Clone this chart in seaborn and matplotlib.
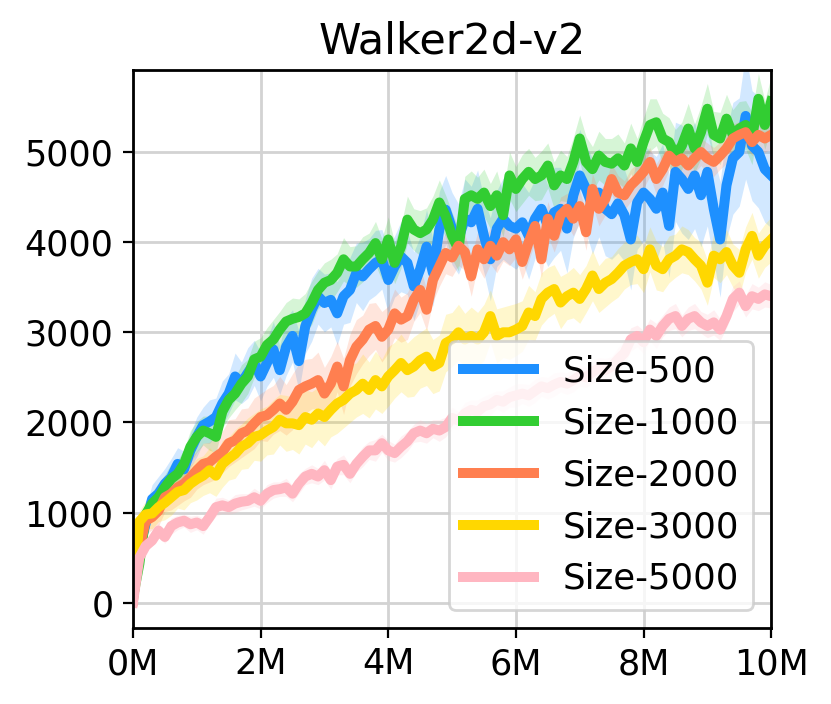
import numpy as np
import pandas as pd
import matplotlib
matplotlib.use("Agg")
import matplotlib.pyplot as plt
import seaborn as sns
from matplotlib.ticker import FuncFormatter

# ---------------- data ----------------
steps = np.linspace(0, 1e7, 101)

labels = ["Size-500", "Size-1000", "Size-2000", "Size-3000", "Size-5000"]
colors = ["#1E90FF", "#32CD32", "#FF7F50", "#FFD700", "#FFB6C1"]

size_500 = [100, 600, 880, 1150, 1210, 1320, 1390, 1540, 1480, 1690,
            1840, 1970, 2010, 2060, 2210, 2320, 2510, 2440, 2550, 2660,
            2510, 2660, 2810, 2580, 2840, 2960, 2680, 3065, 3250, 3400,
            3325, 3360, 3210, 3400, 3470, 3660, 3620, 3700, 3770, 3810,
            3580, 3730, 3840, 3770, 3510, 3700, 3950, 3660, 4140, 4360,
            4150, 4035, 4260, 4220, 4370, 4070, 3810, 4150, 4260, 4180,
            4150, 4220, 4070, 4260, 4370, 4180, 4330, 4370, 4150, 4520,
            4740, 4590, 4400, 4550, 4370, 4310, 4430, 4300, 4030, 4440,
            4550, 4480, 4370, 4550, 4180, 4780, 4700, 4590, 4740, 4520,
            4780, 4370, 4030, 4630, 4930, 5000, 5400, 5070, 5000, 4810,
            4740]
size_1000 = [60, 430, 980, 1100, 1170, 1280, 1375, 1430, 1540, 1730,
             1840, 1910, 1880, 1840, 2120, 2250, 2320, 2430, 2510, 2700,
             2730, 2860, 2920, 3030, 3120, 3150, 3170, 3210, 3325, 3470,
             3550, 3580, 3660, 3810, 3730, 3730, 3810, 3880, 3990, 3810,
             4030, 3770, 3950, 4250, 4140, 4100, 4140, 4250, 4440, 4290,
             4070, 3920, 4480, 4520, 4480, 4550, 4400, 4520, 4300, 4740,
             4590, 4700, 4780, 4700, 4740, 4850, 4630, 4740, 4700, 4890,
             5150, 4890, 4810, 4960, 4890, 4870, 4930, 4850, 5040, 4890,
             5110, 5300, 5330, 5150, 5110, 4960, 5070, 5260, 5040, 5220,
             5480, 5190, 5150, 5370, 5190, 5260, 5300, 5150, 5590, 5300,
             5560]
size_2000 = [20, 610, 910, 950, 1020, 1170, 1210, 1280, 1320, 1390,
             1470, 1540, 1560, 1620, 1670, 1770, 1800, 1880, 1910, 1990,
             2060, 2080, 2140, 2210, 2140, 2230, 2360, 2400, 2430, 2470,
             2320, 2430, 2620, 2400, 2690, 2840, 2920, 3030, 3070, 2950,
             3030, 3210, 3140, 3180, 3360, 3470, 3250, 3580, 3730, 3880,
             3830, 3960, 3890, 3620, 3920, 3810, 3960, 3850, 4000, 3920,
             4030, 3780, 4000, 4180, 3810, 4260, 4070, 4300, 4370, 4260,
             4400, 4110, 4590, 4370, 4480, 4700, 4550, 4520, 4630, 4700,
             4780, 4890, 4700, 4810, 4960, 4890, 4930, 4850, 4930, 5000,
             4930, 4890, 4960, 5040, 5150, 5190, 5220, 5110, 5190, 5150,
             5190]
size_3000 = [60, 900, 980, 990, 1060, 1110, 1170, 1230, 1250, 1320,
             1370, 1410, 1470, 1410, 1540, 1600, 1650, 1730, 1770, 1840,
             1860, 1910, 1950, 2030, 1990, 1990, 1970, 2060, 2030, 2100,
             2060, 2140, 2210, 2250, 2320, 2360, 2430, 2360, 2470, 2400,
             2510, 2580, 2660, 2580, 2620, 2690, 2730, 2620, 2660, 2880,
             2920, 3000, 2920, 2960, 2920, 3000, 3180, 2960, 3000, 3000,
             3030, 3070, 3220, 3180, 3370, 3440, 3480, 3330, 3400, 3440,
             3370, 3480, 3630, 3480, 3550, 3590, 3660, 3740, 3780, 3810,
             3700, 3920, 3740, 3700, 3810, 3850, 3920, 3890, 3810, 3740,
             3550, 3850, 3810, 3890, 3740, 3660, 3920, 4070, 3850, 3960,
             4030]
size_5000 = [0, 500, 630, 690, 800, 730, 850, 890, 910, 870,
             890, 850, 950, 1060, 1080, 1060, 1100, 1120, 1130, 1170,
             1130, 1210, 1250, 1260, 1280, 1210, 1320, 1400, 1430, 1400,
             1470, 1360, 1510, 1530, 1430, 1540, 1620, 1690, 1690, 1770,
             1690, 1660, 1730, 1790, 1880, 1910, 1880, 1930, 1910, 1950,
             2050, 2020, 2100, 2140, 2120, 2180, 2200, 2250, 2230, 2280,
             2300, 2320, 2300, 2350, 2400, 2380, 2420, 2450, 2430, 2470,
             2520, 2500, 2560, 2600, 2580, 2620, 2700, 2770, 2920, 2960,
             2890, 3030, 2960, 3070, 3150, 3180, 3070, 3150, 3180, 3110,
             3070, 3110, 3030, 3180, 3370, 3440, 3290, 3400, 3370, 3420,
             3400]

std_500 = [30, 150, 180, 160, 190, 170, 210, 180, 200, 190,
           220, 200, 240, 210, 250, 220, 260, 230, 280, 250,
           270, 260, 310, 270, 320, 290, 330, 300, 350, 310,
           320, 300, 350, 310, 360, 330, 380, 340, 360, 330,
           370, 340, 390, 350, 380, 360, 410, 370, 420, 380,
           400, 390, 440, 400, 430, 410, 460, 420, 450, 430,
           450, 430, 480, 440, 470, 450, 500, 460, 490, 470,
           510, 480, 530, 490, 520, 500, 550, 510, 560, 520,
           540, 530, 580, 540, 570, 550, 600, 560, 590, 570,
           600, 580, 640, 590, 620, 600, 700, 610, 620, 590,
           580]
std_1000 = [20, 120, 150, 130, 160, 140, 170, 150, 160, 180,
            170, 160, 190, 170, 180, 200, 180, 210, 190, 200,
            210, 190, 220, 200, 210, 230, 200, 220, 240, 210,
            220, 230, 210, 240, 220, 230, 250, 220, 240, 230,
            250, 230, 240, 260, 230, 250, 240, 260, 250, 230,
            260, 240, 250, 270, 240, 260, 250, 270, 240, 260,
            250, 270, 260, 240, 270, 250, 260, 280, 250, 270,
            260, 280, 250, 270, 260, 280, 270, 250, 280, 260,
            270, 290, 260, 280, 270, 290, 260, 280, 270, 290,
            280, 260, 290, 270, 280, 300, 270, 290, 280, 270,
            280]
std_2000 = [20, 130, 150, 140, 170, 160, 180, 200, 190, 220,
            210, 230, 220, 250, 230, 260, 240, 270, 250, 280,
            260, 290, 270, 300, 280, 310, 290, 300, 280, 310,
            290, 300, 280, 310, 290, 300, 270, 290, 260, 280,
            260, 270, 250, 260, 240, 250, 230, 240, 220, 230,
            210, 220, 200, 220, 190, 210, 200, 190, 210, 180,
            200, 190, 210, 180, 200, 190, 180, 200, 170, 190,
            180, 200, 170, 190, 180, 170, 190, 160, 180, 170,
            180, 160, 170, 180, 160, 170, 150, 170, 160, 150,
            170, 160, 150, 170, 160, 150, 160, 150, 160, 150,
            160]
std_3000 = [20, 120, 150, 170, 160, 190, 200, 180, 220, 210,
            230, 220, 250, 230, 260, 240, 270, 250, 280, 260,
            290, 270, 300, 280, 310, 290, 320, 300, 310, 290,
            320, 300, 330, 310, 320, 300, 330, 310, 320, 300,
            330, 310, 320, 300, 330, 310, 320, 300, 310, 320,
            300, 310, 290, 320, 300, 310, 290, 300, 280, 300,
            290, 280, 300, 270, 290, 280, 270, 290, 260, 280,
            270, 260, 280, 260, 270, 250, 270, 260, 250, 270,
            260, 250, 270, 250, 260, 240, 260, 250, 240, 260,
            250, 240, 260, 250, 240, 260, 250, 260, 250, 240,
            250]
std_5000 = [10, 60, 70, 60, 80, 70, 90, 80, 70, 90,
            80, 90, 80, 100, 90, 80, 100, 90, 80, 100,
            90, 100, 90, 80, 100, 90, 110, 90, 100, 90,
            110, 100, 90, 110, 100, 90, 110, 100, 120, 100,
            110, 100, 120, 110, 100, 120, 110, 100, 120, 110,
            120, 100, 120, 110, 130, 110, 120, 100, 120, 110,
            130, 110, 120, 130, 110, 120, 130, 110, 120, 130,
            120, 110, 130, 120, 130, 110, 130, 120, 130, 120,
            130, 120, 140, 120, 130, 140, 120, 130, 140, 120,
            130, 140, 120, 130, 140, 130, 120, 140, 130, 140,
            130]

means = [size_500, size_1000, size_2000, size_3000, size_5000]
stds = [std_500, std_1000, std_2000, std_3000, std_5000]

# ---------------- plot ----------------
fig = plt.figure(figsize=(831 / 200, 704 / 200), dpi=200)
ax = fig.add_axes([0.160, 0.108, 0.768, 0.7926])

for m, s, c in zip(means, stds, colors):
    m = np.asarray(m, dtype=float)
    s = np.asarray(s, dtype=float)
    ax.fill_between(steps, m - s, m + s, color=c, alpha=0.2, lw=0, zorder=1)

for m, c, lab in zip(means, colors, labels):
    df = pd.DataFrame({"step": steps, "reward": m})
    sns.lineplot(data=df, x="step", y="reward", color=c, lw=3.6, label=lab,
                 errorbar=None, ax=ax, zorder=2)

ax.set_xlim(0, 1e7)
ax.set_ylim(-280, 5910)
ax.set_xticks([0, 2e6, 4e6, 6e6, 8e6, 1e7])
ax.set_yticks([0, 1000, 2000, 3000, 4000, 5000])
ax.xaxis.set_major_formatter(FuncFormatter(lambda v, p: f"{v / 1e6:.0f}M"))
ax.set_xlabel("")
ax.set_ylabel("")
ax.grid(True, color="#d3d3d3", lw=1)
ax.set_axisbelow(True)
ax.tick_params(labelsize=12.6)
for sp in ax.spines.values():
    sp.set_color("black")
    sp.set_linewidth(1)
ax.set_title("Walker2d-v2", fontsize=15.5)
ax.legend(loc="lower right", fontsize=12.8)

fig.savefig("out.png", dpi=200)
